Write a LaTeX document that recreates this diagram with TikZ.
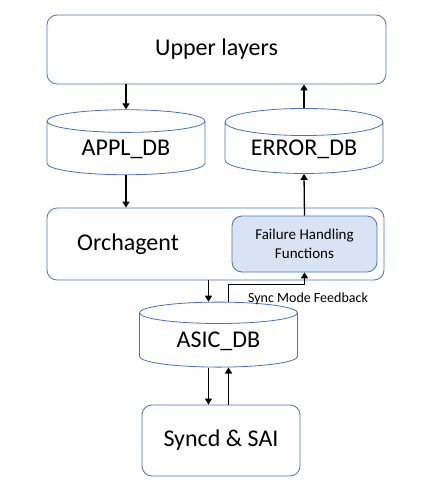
\documentclass[tikz,border=0pt]{standalone}
\usepackage{fontspec}
\setmainfont{Carlito}
\usetikzlibrary{arrows, arrows.meta, shapes, positioning}
\definecolor{layerblue}{RGB}{68,114,196}
\definecolor{fhfill}{RGB}{218,227,243}

\begin{document}
\begin{tikzpicture}[x=1pt, y=-1pt,
  layer/.style={draw=layerblue, line width=0.8pt, rounded corners=10pt, font=\fontsize{24}{28}\selectfont},
  db/.style={draw=layerblue, line width=0.8pt, cylinder, shape border rotate=90, aspect=0.25, inner sep=1pt, minimum width=158pt, minimum height=65pt, font=\fontsize{24}{28}\selectfont},
  flow/.style={-{Triangle[length=6pt, width=7pt]}, line width=1.3pt}]
\useasboundingbox (0,0) rectangle (432,480);

\node[layer, minimum width=339pt, minimum height=69pt] (upper) at (216.5,49.5) {Upper layers};
\node[db] (appl) at (126,149) {APPL\_DB};
\node[db] (error) at (304,149) {ERROR\_DB};
\node[layer, minimum width=337pt, minimum height=72pt] (orch) at (215.5,244) {};
\node[font=\fontsize{24}{28}\selectfont] (orchlbl) at (128,244) {Orchagent};
\node[layer, fill=fhfill, minimum width=145pt, minimum height=56pt, align=center, font=\fontsize{15}{19}\selectfont] (fhf) at (304.5,244) {Failure Handling\\Functions};
\node[db] (asic) at (218.5,341) {ASIC\_DB};
\node[layer, minimum width=158pt, minimum height=71pt] (syncd) at (221,440.5) {Syncd \& SAI};

\draw[flow] (upper.south -| appl.north) -- (appl.north);
\draw[flow] (error.north) -- (upper.south -| error.north);
\draw[flow] (appl.south) -- (orch.north -| appl.south);
\draw[flow] (fhf.north) -- (error.south);
\draw[flow] ([xshift=-10pt]asic.north |- orch.south) -- ([xshift=-10pt]asic.north);
\draw[flow] ([xshift=10pt]asic.north) -- ++(0,-17) coordinate (fbcorner) -| (fhf.south);
\node[font=\fontsize{14}{17}\selectfont] (fblbl) at (308,299) {Sync Mode Feedback};
\draw[flow] ([xshift=-10pt]asic.south) -- ([xshift=-10pt]asic.south |- syncd.north);
\draw[flow] ([xshift=10pt]asic.south |- syncd.north) -- ([xshift=10pt]asic.south);

\end{tikzpicture}
\end{document}
